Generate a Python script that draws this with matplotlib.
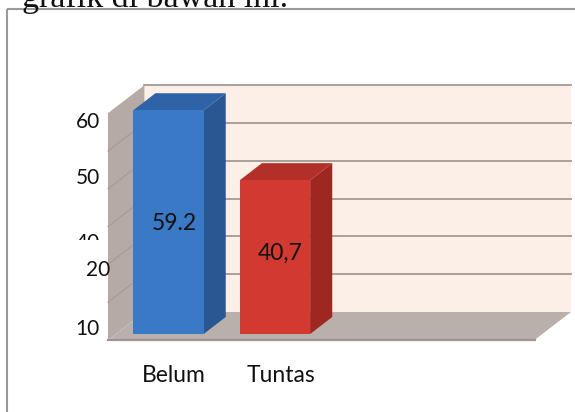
import matplotlib
matplotlib.use("Agg")
import matplotlib.pyplot as plt
from matplotlib.patches import Polygon, Rectangle

# ---------------------------------------------------------------------------
# Data
# ---------------------------------------------------------------------------
categories = ["Belum", "Tuntas"]
values = [59.2, 40.7]
value_labels = ["59.2", "40,7"]
grid_values = [10, 20, 30, 40, 50, 60]
# the original chart has its axis labels scattered, kept as they appear
tick_labels = ["60", "50", "40", "20", "10"]

# ---------------------------------------------------------------------------
# Style
# ---------------------------------------------------------------------------
plt.rcParams["font.family"] = ["Lato", "DejaVu Sans"]

W, H = 575, 412
PX_X = 106.5          # pixels per category step
PX_Y = 3.78           # pixels per value unit
X0_PX, Y0_PX = 168.5, 334   # pixel of category 0 / value 0 on the bar front plane

Z_FLOOR, Z_BAR, Z_WALL = -6, 17, 22   # depth levels (in pixels)
X_LEFT, X_RIGHT, V_TOP = -0.495, 3.51, 60
BAR_W = 0.66

WALL_FILL = "#FCEFE7"
GRID = "#A39A95"
SIDE_WALL = "#B5AAA5"
FLOOR = "#B9B0AC"
FRONT = ["#3A79C6", "#D23A31"]
SIDE = ["#2A5792", "#9E2721"]
TOP = ["#2F62A6", "#B3302A"]


def px(xp, yp):
    """pixel position -> data coords"""
    return ((xp - X0_PX) / PX_X, (Y0_PX - yp) / PX_Y)


def d(x, v, z):
    """oblique projection: z pixels of depth shift right 1.3z and up z"""
    return (x + 1.3 * z / PX_X, v + z / PX_Y)


fig = plt.figure(figsize=(W / 100, H / 100), dpi=100)
ax = fig.add_axes([0, 0, 1, 1])
ax.axis("off")
ax.set_xlim(px(0, 0)[0], px(W, 0)[0])
ax.set_ylim(px(0, H)[1], px(0, 0)[1])

# ---- back wall + gridlines ----
ax.add_patch(Polygon([d(X_LEFT, 0, Z_WALL), d(X_RIGHT, 0, Z_WALL),
                      d(X_RIGHT, V_TOP, Z_WALL), d(X_LEFT, V_TOP, Z_WALL)],
                     closed=True, fc=WALL_FILL, ec="none", zorder=1))
for g in grid_values:
    (x1, y1), (x2, y2) = d(X_LEFT, g, Z_WALL), d(X_RIGHT, g, Z_WALL)
    ax.plot([x1, x2], [y1, y2], color=GRID, lw=1.3, zorder=2)

# ---- left wall ----
ax.add_patch(Polygon([d(X_LEFT, 0, Z_FLOOR), d(X_LEFT, 0, Z_WALL),
                      d(X_LEFT, V_TOP, Z_WALL), d(X_LEFT, V_TOP, Z_FLOOR)],
                     closed=True, fc=SIDE_WALL, ec="none", zorder=3))
for g in grid_values[:-1]:
    (x1, y1), (x2, y2) = d(X_LEFT, g, Z_FLOOR), d(X_LEFT, g, Z_WALL)
    ax.plot([x1, x2], [y1, y2], color="#A59A94", lw=0.8, zorder=3)

# ---- floor ----
ax.add_patch(Polygon([d(X_LEFT, 0, Z_FLOOR), d(X_RIGHT, 0, Z_FLOOR),
                      d(X_RIGHT, 0, Z_WALL), d(X_LEFT, 0, Z_WALL)],
                     closed=True, fc=FLOOR, ec="none", zorder=4))
(x1, y1), (x2, y2) = d(X_LEFT, 0, Z_FLOOR), d(X_RIGHT, 0, Z_FLOOR)
ax.plot([x1, x2], [y1, y2], color="#9C9592", lw=1.6, zorder=4)

# ---- bars ----
xs = list(range(len(categories)))
for i, v in zip(xs, values):
    r, l = i + BAR_W / 2, i - BAR_W / 2
    ax.add_patch(Polygon([d(r, 0, 0), d(r, 0, Z_BAR), d(r, v, Z_BAR), d(r, v, 0)],
                         closed=True, fc=SIDE[i], ec="none", zorder=5))
    ax.add_patch(Polygon([d(l, v, 0), d(r, v, 0), d(r, v, Z_BAR), d(l, v, Z_BAR)],
                         closed=True, fc=TOP[i], ec="none", zorder=5))
ax.bar(xs, values, width=BAR_W, color=FRONT, zorder=6)

# ---- value labels ----
label_pos = [(174.5, 224), (280, 253)]
for lbl, (xp, yp) in zip(value_labels, label_pos):
    ax.text(*px(xp, yp), lbl, ha="center", va="center", fontsize=16.5,
            color="#111111", zorder=7)

# ---- category labels ----
for i, cat in zip(xs, categories):
    ax.text(*px(X0_PX + i * PX_X + 5 + i * 1, 376), cat, ha="center", va="center",
            fontsize=16.5, color="#111111")

# ---- scattered axis labels ----
tick_pos = [(100, 122), (100, 178), (100, 243), (110, 270), (100, 329)]
for lbl, (xp, yp) in zip(tick_labels, tick_pos):
    t = ax.text(*px(xp, yp), lbl, ha="right", va="center", fontsize=15,
                color="#111111")
    if lbl == "40":
        # lower half hidden in the original
        clip = Rectangle(px(60, 240), 50 / PX_X, 20 / PX_Y, transform=ax.transData)
        t.set_clip_on(True)
        t.set_clip_path(clip)

# ---- page text + frame ----
ax.text(*px(22, 7), "grafik di bawah ini.", ha="left", va="baseline",
        fontsize=24.5, family=["Liberation Serif", "DejaVu Serif"], color="#111111")
ax.plot(*zip(px(7, 9), px(7, H)), color="#9A9A9A", lw=1.5, solid_capstyle="butt")
ax.plot(*zip(px(7, 9), px(W, 9)), color="#9A9A9A", lw=1.5, solid_capstyle="butt")

fig.savefig("out.png", dpi=100)
